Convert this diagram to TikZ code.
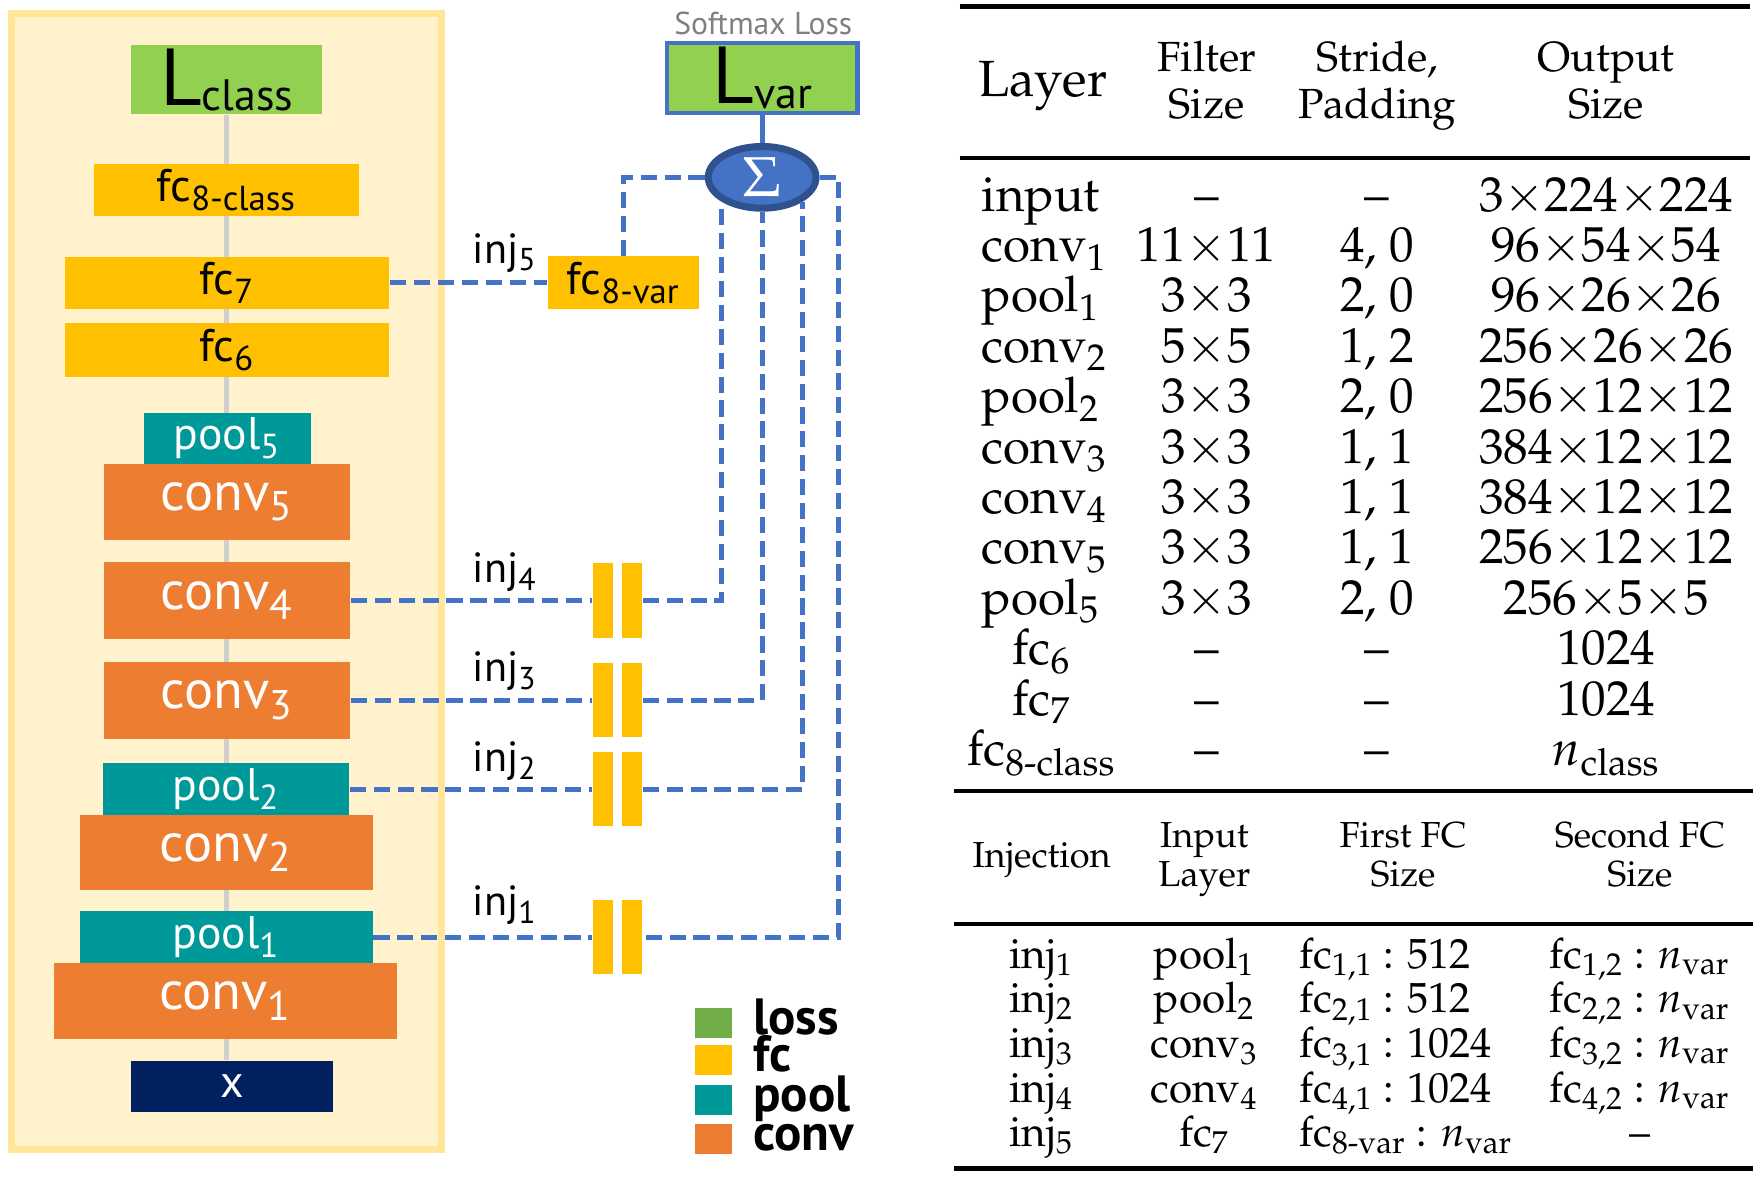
\documentclass[tikz,border=0pt]{standalone}
\usepackage{mathpazo}
\usepackage[no-math]{fontspec}
\newfontfamily\dinfont{PT Sans}
\usetikzlibrary{positioning,shapes.geometric,backgrounds}

\definecolor{panelfill}{HTML}{FFF2CC}
\definecolor{panelline}{HTML}{FFE699}
\definecolor{lossgreen}{HTML}{92D050}
\definecolor{keygreen}{HTML}{70AD47}
\definecolor{fcyellow}{HTML}{FFC000}
\definecolor{poolteal}{HTML}{009999}
\definecolor{convorange}{HTML}{ED7D31}
\definecolor{inputnavy}{HTML}{002060}
\definecolor{injblue}{HTML}{4472C4}
\definecolor{sumline}{HTML}{2F528F}
\definecolor{spinegray}{HTML}{D0CECE}
\definecolor{notegray}{HTML}{808080}

\newcommand{\pu}{0.011224cm}
\newcommand{\pala}{\fontencoding{OT1}\fontfamily{ppl}\selectfont}
\newcommand{\tx}{{\times}}

\begin{document}
\begin{tikzpicture}[x=\pu, y=-\pu]
        \useasboundingbox (0,0) rectangle (1568,1048);
        % network column
        \begin{scope}
            \tikzset{sz/.style 2 args = {
                minimum width=#1*\pu,
                minimum height=#2*\pu } }
            \tikzset{lossnode/.style = {
                inner sep=0pt,
                fill=lossgreen,
                font=\dinfont\fontsize{12.5}{15}\selectfont } }
            \tikzset{fcnode/.style = {
                inner sep=0pt,
                fill=fcyellow,
                font=\dinfont\fontsize{13}{15}\selectfont } }
            \tikzset{poolnode/.style = {
                inner sep=0pt,
                fill=poolteal,
                text=white,
                font=\dinfont\fontsize{13}{15}\selectfont } }
            \tikzset{convnode/.style = {
                inner sep=0pt,
                fill=convorange,
                text=white,
                font=\dinfont\fontsize{15.5}{18}\selectfont } }
            \tikzset{inode/.style = {
                inner sep=0pt,
                fill=inputnavy,
                text=white,
                font=\dinfont\fontsize{13}{15}\selectfont } }
            \tikzset{dedge/.style = {
                draw=injblue,
                line width=1.4pt,
                dash pattern=on 4.6pt off 2.2pt } }
            \tikzset{sedge/.style = {
                draw=spinegray,
                line width=1.3pt } }
                \node[lossnode, sz={170}{62}] (lclass) at (202,71)
                    {{\fontsize{23}{26}\selectfont L}\raisebox{-1.5pt}{class}};
                \node[fcnode, sz={236}{46}] (fc8c) at (202,169) {fc\textsubscript{8-class}};
                \node[fcnode, sz={289}{46}] (fc7) at (202.5,252) {fc\textsubscript{7}};
                \node[fcnode, sz={289}{48}] (fc6) at (202.5,312) {fc\textsubscript{6}};
                \node[poolnode, sz={149}{45}] (pool5) at (202.5,390.5) {pool\textsubscript{5}};
                \node[convnode, sz={219}{68}] (conv5) at (202.5,447) {conv\textsubscript{5}};
                \node[convnode, sz={219}{68}] (conv4) at (202.5,535) {conv\textsubscript{4}};
                \node[convnode, sz={219}{68}] (conv3) at (202.5,624) {conv\textsubscript{3}};
                \node[poolnode, sz={219}{46}] (pool2) at (201.5,703) {pool\textsubscript{2}};
                \node[convnode, sz={261}{67}] (conv2) at (201.5,759.5) {conv\textsubscript{2}};
                \node[poolnode, sz={261}{46}] (pool1) at (201.5,835) {pool\textsubscript{1}};
                \node[convnode, sz={306}{68}] (conv1) at (201,892) {conv\textsubscript{1}};
                \node[inode, sz={180}{46}] (xin) at (207,968) {x};
                \begin{pgfonlayer}{background}
                    \draw[draw=panelline, fill=panelfill, line width=2pt] (10,12) rectangle (393,1024);
                    \path[sedge] (lclass.south) -- (lclass.south |- xin.north);
                \end{pgfonlayer}
                % variance branch
                \node[font=\dinfont\fontsize{9}{11}\selectfont, text=notegray] (smx) at (680,21) {Softmax Loss};
                \node[lossnode, sz={170}{63}, draw=injblue, line width=1.2pt] (lvar) at (679,69.5)
                    {{\fontsize{23}{26}\selectfont L}\raisebox{-1.5pt}{var}};
                \node[ellipse, fill=injblue, draw=sumline, line width=2pt, inner sep=0pt,
                    sz={96}{55}, text=white] (sigma) at (679,158)
                    {\pala\fontsize{16}{18}\selectfont$\Sigma$};
                \node[fcnode, sz={135}{47}] (fc8v) at (555.5,252) {fc\textsubscript{8-var}};
                \foreach \n/\y in {1/835, 2/703, 3/624, 4/535}{
                    \node[fcnode, sz={18}{66}] (bara\n) at (537,\y) {};
                    \node[fcnode, sz={18}{66}] (barb\n) at (563,\y) {};
                }
                \foreach \n/\y in {1/806, 2/678, 3/598, 4/510, 5/225}{
                    \node[font=\dinfont\fontsize{12}{14}\selectfont] (inj\n) at (450,\y) {inj\textsubscript{\n}};
                }
                \coordinate (turn1) at (747,835);
                \path[draw=injblue, line width=1.4pt] (lvar) -- (sigma);
                \path[dedge] (fc7.east) -- (fc8v.west);
                \path[dedge] (fc8v.north) |- (sigma.west);
                \path[dedge] (conv4.east) -- (bara4.west);
                \path[dedge] (conv3.east) -- (bara3.west);
                \path[dedge] (pool2.east) -- (bara2.west);
                \path[dedge] (pool1.east) -- (bara1.west);
                \path[dedge] (barb4.east) -| (sigma.south west);
                \path[dedge] (barb3.east) -| (sigma.south);
                \path[dedge] (barb2.east) -| (sigma.south east);
                \path[dedge] (sigma.east) -| (turn1) -- (barb1.east);
                % legend
                \foreach \n/\c/\y in {loss/keygreen/911.5, fc/fcyellow/944.5, pool/poolteal/980, conv/convorange/1014.5}{
                    \node[fill=\c, inner sep=0pt, sz={33}{27}] (key\n) at (635.5,\y) {};
                    \node[right=0.2cm of key\n, inner sep=0pt, text height=1.5ex, text depth=0ex,
                        font=\dinfont\bfseries\fontsize{14.5}{16}\selectfont] (keytext\n) {\n};
                }
        \end{scope}
        % tables
        \begin{scope}
            \tikzset{tcell/.style = {
                anchor=base,
                inner sep=0pt,
                font=\pala\fontsize{14}{16}\selectfont } }
            \tikzset{thead/.style = {
                tcell,
                font=\pala\fontsize{12}{14}\selectfont } }
            \tikzset{scell/.style = {
                tcell,
                font=\pala\fontsize{12}{14}\selectfont } }
            \tikzset{shead/.style = {
                tcell,
                font=\pala\fontsize{10.3}{12}\selectfont } }
                \draw[line width=1.5pt] (855,6) -- (1559,6);
                \draw[line width=1.1pt] (855,141) -- (1559,141);
                \draw[line width=1.1pt] (850,705) -- (1562,705);
                \draw[line width=1.1pt] (850,823) -- (1562,823);
                \draw[line width=1.3pt] (850,1041) -- (1562,1041);
                \node[tcell, font=\pala\fontsize{14.5}{16}\selectfont] (hlayer) at (929,86) {Layer};
                \node[thead] (hfa) at (1075,64) {Filter};
                \node[thead] (hfb) at (1075,106) {Size};
                \node[thead] (hsa) at (1227,64) {Stride,};
                \node[thead] (hsb) at (1227,106) {Padding};
                \node[thead] (hoa) at (1431,64) {Output};
                \node[thead] (hob) at (1431,106) {Size};
                \foreach \lname/\fs/\sp/\os [count=\i] in {
                    input/--/--/{$3\tx224\tx224$},
                    conv\textsubscript{1}/{$11\tx11$}/{4, 0}/{$96\tx54\tx54$},
                    pool\textsubscript{1}/{$3\tx3$}/{2, 0}/{$96\tx26\tx26$},
                    conv\textsubscript{2}/{$5\tx5$}/{1, 2}/{$256\tx26\tx26$},
                    pool\textsubscript{2}/{$3\tx3$}/{2, 0}/{$256\tx12\tx12$},
                    conv\textsubscript{3}/{$3\tx3$}/{1, 1}/{$384\tx12\tx12$},
                    conv\textsubscript{4}/{$3\tx3$}/{1, 1}/{$384\tx12\tx12$},
                    conv\textsubscript{5}/{$3\tx3$}/{1, 1}/{$256\tx12\tx12$},
                    pool\textsubscript{5}/{$3\tx3$}/{2, 0}/{$256\tx5\tx5$}}{
                    \pgfmathsetmacro{\by}{188+44.9*(\i-1)}
                    \node[tcell, anchor=base west] (lay\i) at (874,\by) {\lname};
                    \node[tcell] (fil\i) at (1075,\by) {\fs};
                    \node[tcell] (str\i) at (1227,\by) {\sp};
                    \node[tcell] (out\i) at (1431,\by) {\os};
                }
                \foreach \lname/\os [count=\j] in {
                    fc\textsubscript{6}/1024,
                    fc\textsubscript{7}/1024,
                    fc\textsubscript{8-class}/{$n_{\mathrm{class}}$}}{
                    \pgfmathsetmacro{\by}{188+44.9*(\j+8)}
                    \node[tcell] (flay\j) at (928,\by) {\lname};
                    \node[tcell] (ffil\j) at (1075,\by) {--};
                    \node[tcell] (fstr\j) at (1227,\by) {--};
                    \node[tcell] (fout\j) at (1431,\by) {\os};
                }
                \node[shead] (hinj) at (928,773) {Injection};
                \node[shead] (hina) at (1073,754.6) {Input};
                \node[shead] (hinb) at (1073,790) {Layer};
                \node[shead] (hffa) at (1250,754.6) {First FC};
                \node[shead] (hffb) at (1250,790) {Size};
                \node[shead] (hsfa) at (1461,754.6) {Second FC};
                \node[shead] (hsfb) at (1461,790) {Size};
                \foreach \inl/\ff/\sf [count=\k] in {
                    pool\textsubscript{1}/{fc\textsubscript{1,1} : 512}/{fc\textsubscript{1,2} : $n_{\mathrm{var}}$},
                    pool\textsubscript{2}/{fc\textsubscript{2,1} : 512}/{fc\textsubscript{2,2} : $n_{\mathrm{var}}$},
                    conv\textsubscript{3}/{fc\textsubscript{3,1} : 1024}/{fc\textsubscript{3,2} : $n_{\mathrm{var}}$},
                    conv\textsubscript{4}/{fc\textsubscript{4,1} : 1024}/{fc\textsubscript{4,2} : $n_{\mathrm{var}}$},
                    fc\textsubscript{7}/{fc\textsubscript{8-var} : $n_{\mathrm{var}}$}/--}{
                    \pgfmathsetmacro{\by}{862.5+39.8*(\k-1)}
                    \node[scell] (tinj\k) at (928,\by) {inj\textsubscript{\k}};
                    \node[scell] (tin\k) at (1073,\by) {\inl};
                    \node[scell, anchor=base west] (tff\k) at (1157,\by) {\ff};
                    \node[scell] (tsf\k) at (1461,\by) {\sf};
                }
        \end{scope}
\end{tikzpicture}
\end{document}
